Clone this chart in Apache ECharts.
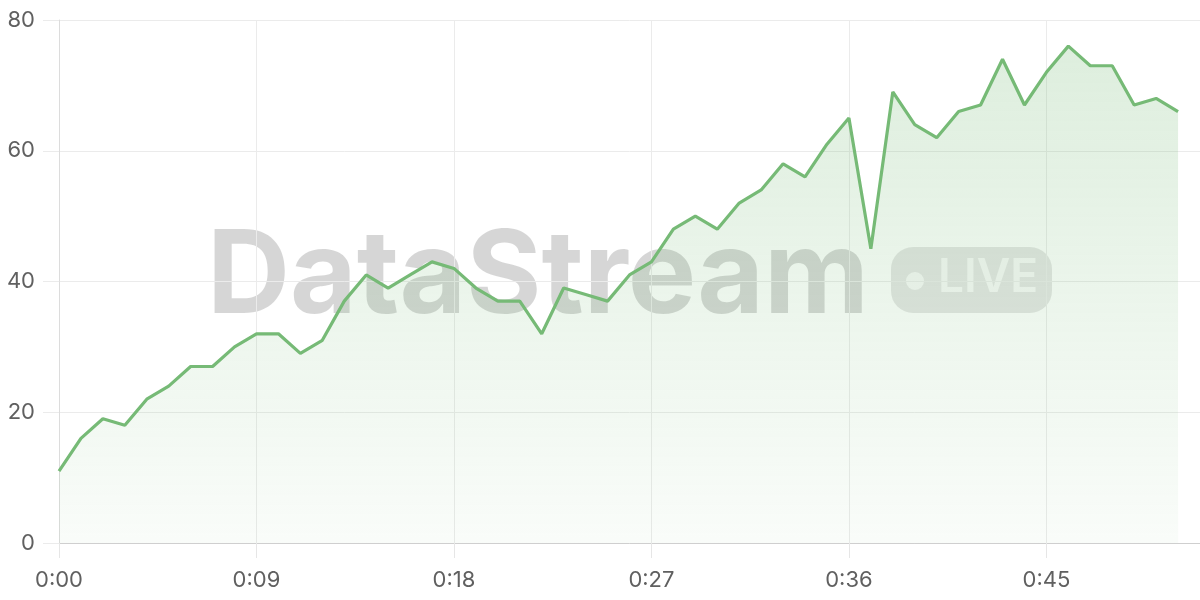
<!DOCTYPE html>
<html>
<head>
<meta charset="utf-8">
<script src="https://cdn.jsdelivr.net/npm/echarts@6/dist/echarts.min.js"></script>
<style>
html,body{margin:0;padding:0;background:#fff;}
#chart{width:1200px;height:600px;}
</style>
</head>
<body>
<div id="chart"></div>
<script>
// elapsed seconds
var seconds = [0,1,2,3,4,5,6,7,8,9,10,11,12,13,14,15,16,17,18,19,20,21,22,23,24,25,26,27,28,29,30,31,32,33,34,35,36,37,38,39,40,41,42,43,44,45,46,47,48,49,50,51];
// measured values
var values = [11,16,19,18,22,24,27,27,30,32,32,29,31,37,41,39,41,43,42,39,37,37,32,39,38,37,41,43,48,50,48,52,54,58,56,61,65,45,69,64,62,66,67,74,67,72,76,73,73,67,68,66];
var yTicks = [0,20,40,60,80];
var xTickStep = 9;
var watermarkText = 'DataStream';
var badgeText = 'LIVE';

function fmt(s){
  var m = Math.floor(s/60), r = Math.round(s%60);
  return m + ':' + (r<10?'0':'') + r;
}

var data = seconds.map(function(s,i){return [s, values[i]];});
var chart = echarts.init(document.getElementById('chart'));
var font = 'Inter, "Noto Sans", sans-serif';
chart.setOption({
  animation:false,
  grid:{left:59, right:-2, top:20, bottom:57, containLabel:false},
  xAxis:{
    type:'value', min:0, max:52, interval:xTickStep,
    axisLine:{show:true, lineStyle:{color:'#cfcfcf', width:1}},
    axisTick:{show:true, length:15, lineStyle:{color:'#e6e6e6'}},
    splitLine:{show:true, lineStyle:{color:'#ebebeb', width:1}},
    axisLabel:{color:'#606060', fontSize:22, fontFamily:font, margin:26, showMaxLabel:false,
      formatter:function(v){return fmt(v);}}
  },
  yAxis:{
    type:'value', min:yTicks[0], max:yTicks[yTicks.length-1], interval:yTicks[1]-yTicks[0],
    axisLine:{show:true, lineStyle:{color:'#dcdcdc', width:1}},
    axisTick:{show:true, length:16, lineStyle:{color:'#ebebeb'}},
    splitLine:{show:true, lineStyle:{color:'#ebebeb', width:1}},
    axisLabel:{color:'#606060', fontSize:22, fontFamily:font, margin:24}
  },
  graphic:[
    {type:'text', z:0, left:207, top:221,
      style:{text:watermarkText, font:'bold 115px '+font, fill:'rgba(0,0,0,0.16)'}},
    {type:'rect', z:0, shape:{x:891, y:247, width:161, height:66, r:22},
      style:{fill:'rgba(0,0,0,0.10)'}},
    {type:'circle', z:0, shape:{cx:915, cy:281, r:9},
      style:{fill:'rgba(255,255,255,0.72)'}},
    {type:'text', z:0, left:938, top:255,
      style:{text:badgeText, font:'600 46px '+font, fill:'rgba(255,255,255,0.72)'}}
  ],
  series:[{
    type:'line', z:2, data:data, showSymbol:false, symbol:'none',
    lineStyle:{color:'#76ba76', width:3.2},
    areaStyle:{color:new echarts.graphic.LinearGradient(0,0,0,1,[
      {offset:0,color:'rgba(118,186,118,0.35)'},
      {offset:1,color:'rgba(118,186,118,0.06)'}
    ])}
  }]
});
</script>
</body>
</html>
